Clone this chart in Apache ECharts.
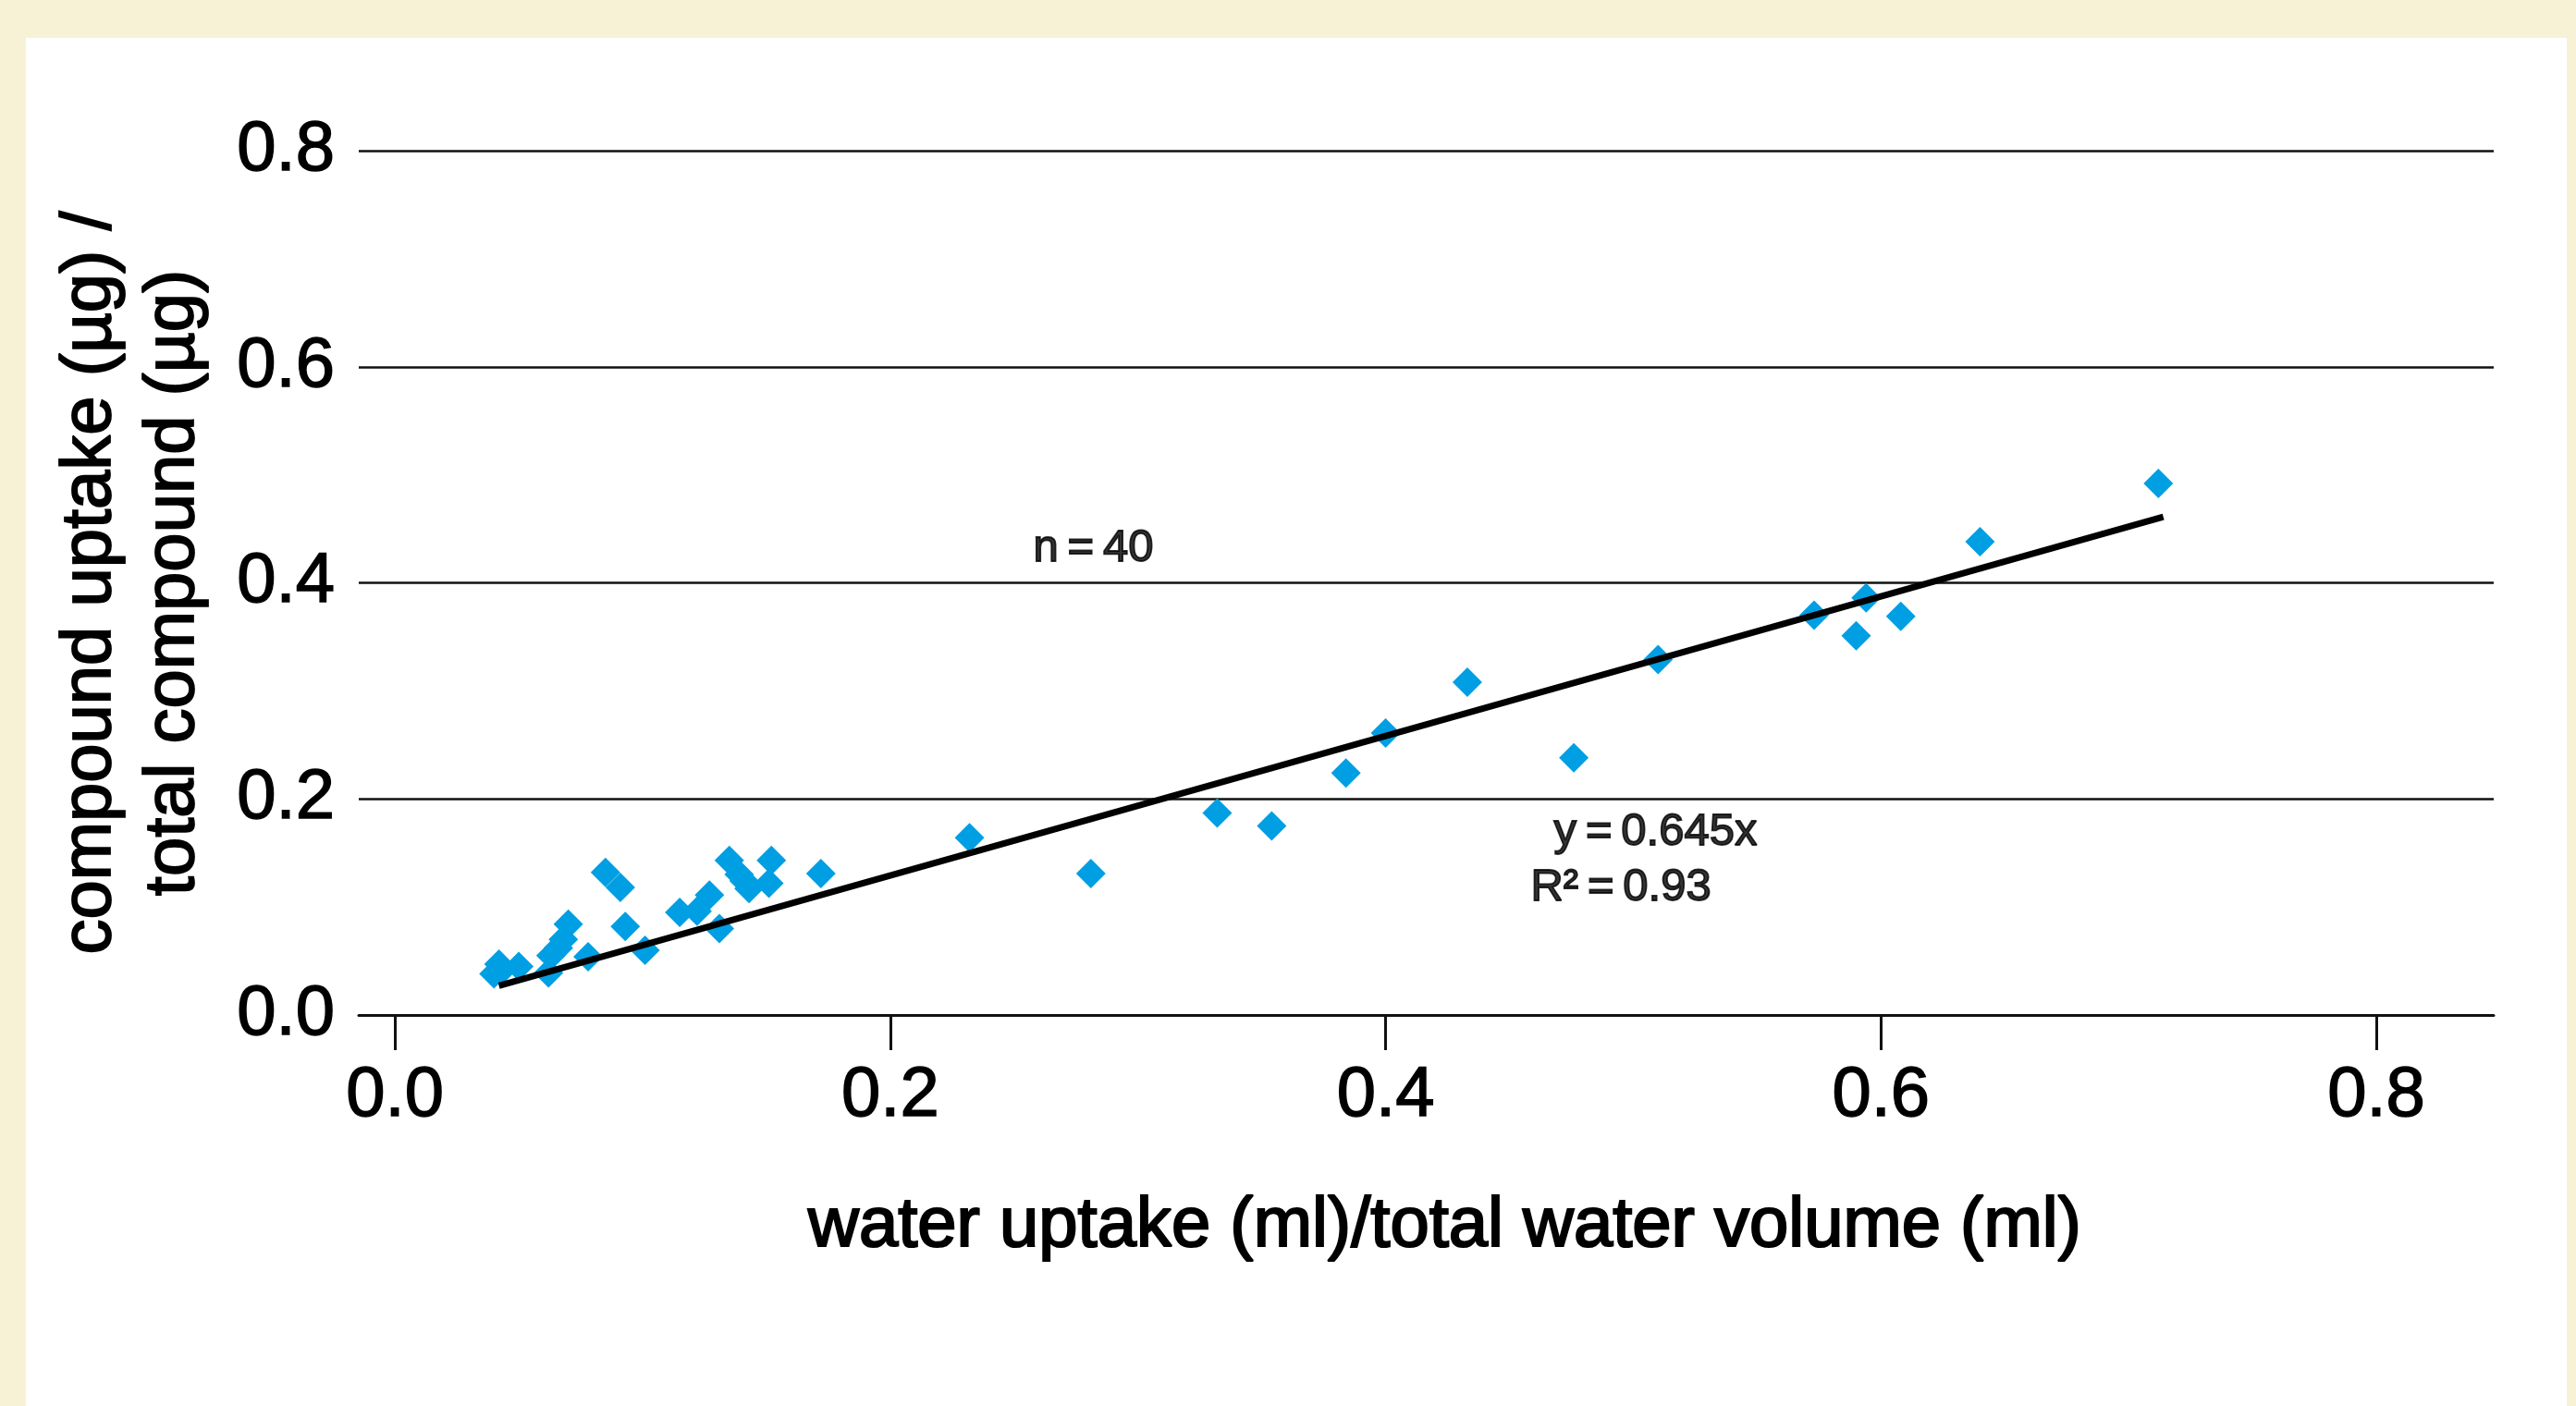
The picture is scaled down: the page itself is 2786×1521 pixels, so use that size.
<!DOCTYPE html>
<html>
<head>
<meta charset="utf-8">
<title>compound uptake vs water uptake</title>
<script src="https://cdn.jsdelivr.net/npm/echarts@6/dist/echarts.min.js"></script>
<style>
  html, body { margin: 0; padding: 0; width: 2786px; height: 1521px; background: #f7f2d6; overflow: hidden; }
  #panel { position: absolute; left: 28px; top: 41px; width: 2748px; height: 1480px; background: #fff; }
</style>
</head>
<body>
<div id="panel"></div>
<script>
// 数据
var waterX = [
  0.040, 0.042, 0.043, 0.050, 0.062, 0.063, 0.066, 0.068, 0.070, 0.078,
  0.085, 0.091, 0.093, 0.101, 0.115, 0.122, 0.127, 0.131, 0.135, 0.139,
  0.141, 0.143, 0.151, 0.152, 0.172, 0.232, 0.281, 0.332, 0.354, 0.384,
  0.400, 0.433, 0.476, 0.510, 0.573, 0.590, 0.594, 0.608, 0.640, 0.712
];
var compoundY = [
  0.038, 0.047, 0.041, 0.045, 0.039, 0.055, 0.062, 0.070, 0.084, 0.054,
  0.132, 0.118, 0.082, 0.060, 0.095, 0.096, 0.111, 0.080, 0.143, 0.130,
  0.124, 0.117, 0.122, 0.143, 0.131, 0.164, 0.131, 0.187, 0.175, 0.224,
  0.261, 0.308, 0.238, 0.329, 0.370, 0.351, 0.386, 0.369, 0.438, 0.492
];
// 回归线两端
var fitX = [0.042, 0.714];
var fitY = [0.027, 0.461];
// 刻度
var xTicks = [0, 0.2, 0.4, 0.6, 0.8];
// 注释文字
var noteText = ['n\u2009=\u200940', 'y\u2009=\u20090.645x', 'R\u00b2\u2009=\u20090.93'];
var noteX = [0.282, 0.509, 0.495];
var noteY = [0.432, 0.169, 0.118];

var FONT = '"Liberation Sans", Arial, Helvetica, sans-serif';

var points = waterX.map(function (x, i) { return [x, compoundY[i]]; });
var fitLine = fitX.map(function (x, i) { return [x, fitY[i]]; });
var notes = noteText.map(function (t, i) { return { value: [noteX[i], noteY[i]], name: t }; });

var option = {
  animation: false,
  backgroundColor: '#fff',
  textStyle: { fontFamily: FONT },
  grid: {
    left: 360,
    right: 79,
    top: 122,
    bottom: 423
  },
  xAxis: {
    type: 'value',
    min: -0.0146,
    max: 0.8474,
    name: 'water uptake (ml)/total water volume (ml)',
    nameLocation: 'middle',
    nameGap: 191,
    nameTextStyle: {
      fontSize: 76, color: '#000', fontFamily: FONT, padding: [0, 0, 0, 40],
      textBorderColor: '#000', textBorderWidth: 2.2
    },
    splitLine: { show: false },
    axisLine: { show: true, lineStyle: { color: '#111', width: 3 } },
    axisTick: {
      show: true,
      customValues: xTicks,
      length: 38,
      lineStyle: { color: '#111', width: 3 }
    },
    axisLabel: {
      customValues: xTicks,
      margin: 50,
      fontSize: 76,
      color: '#000',
      fontFamily: FONT,
      textBorderColor: '#000',
      textBorderWidth: 1.5,
      formatter: function (v) { return v.toFixed(1); }
    }
  },
  yAxis: {
    type: 'value',
    min: 0,
    max: 0.8,
    interval: 0.2,
    name: 'compound uptake (\u00b5g) /\ntotal compound (\u00b5g)',
    nameLocation: 'middle',
    nameGap: 155,
    nameTextStyle: {
      fontSize: 76, lineHeight: 90, color: '#000', fontFamily: FONT,
      textBorderColor: '#000', textBorderWidth: 1.8
    },
    axisLine: { show: false },
    axisTick: { show: false },
    splitLine: { show: true, lineStyle: { color: '#111', width: 2.5 } },
    axisLabel: {
      margin: 26,
      fontSize: 76,
      color: '#000',
      fontFamily: FONT,
      textBorderColor: '#000',
      textBorderWidth: 1.5,
      formatter: function (v) { return v.toFixed(1); }
    }
  },
  series: [
    {
      type: 'scatter',
      data: points,
      symbol: 'diamond',
      symbolSize: 32,
      itemStyle: { color: '#009fe3', opacity: 1 },
      z: 2
    },
    {
      type: 'line',
      data: fitLine,
      symbol: 'none',
      lineStyle: { color: '#000', width: 7 },
      z: 3
    },
    {
      type: 'scatter',
      data: notes,
      symbolSize: 0,
      label: {
        show: true,
        position: 'inside',
        formatter: '{b}',
        fontSize: 49,
        color: '#000',
        fontFamily: FONT,
        textBorderColor: '#000',
        textBorderWidth: 1.8
      },
      z: 4
    }
  ]
};

var myChart = echarts.init(document.getElementById('panel'));
myChart.setOption(option);
</script>
</body>
</html>
